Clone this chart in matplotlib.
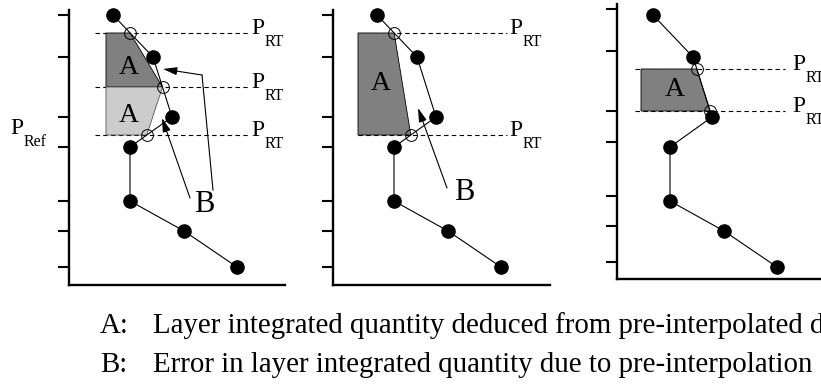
import matplotlib
matplotlib.use('Agg')
import matplotlib.pyplot as plt
import numpy as np
from matplotlib.patches import Polygon

plt.rcParams['font.family'] = ['Liberation Serif', 'DejaVu Serif']

# ---------------- data (diagram units: x = quantity, y = pressure level) ----
profile_x = [44, 84, 103, 61, 61, 115, 168]
profile_p = [15, 57, 117, 147, 201, 231, 267]

p1_ticks = [15, 57, 117, 147, 201, 231, 267]
p2_ticks = [15, 57, 117, 147, 201, 231, 267]
p3_ticks = [9, 51, 111, 142, 196, 226, 262]

p1_rt_levels = [33, 87, 135]
p2_rt_levels = [33, 135]
p3_rt_levels = [69, 111]

p1_fill_colors = ['#808080', '#cccccc']
p2_fill_colors = ['#808080']
p3_fill_colors = ['#808080']

label_rt = ('P', 'RT')
label_ref = ('P', 'Ref')
legend_keys = ['A:', 'B:']
legend_texts = ['Layer integrated quantity deduced from pre-interpolated data',
                'Error in layer integrated quantity due to pre-interpolation']

# ---------------- layout --------------------------------------------------
W, H = 821, 387
fig = plt.figure(figsize=(W / 100, H / 100), dpi=100)


def px_axes(left, top, right, bottom):
    return fig.add_axes([left / W, 1 - bottom / H, (right - left) / W, (bottom - top) / H])


def style_axes(ax, xlim, ylim, ticks):
    ax.set_xlim(*xlim)
    ax.set_ylim(*ylim)
    ax.patch.set_alpha(0)
    for s in ['top', 'right']:
        ax.spines[s].set_visible(False)
    for s in ['left', 'bottom']:
        ax.spines[s].set_linewidth(1.7)
    ax.set_xticks([])
    ax.set_yticks(ticks)
    ax.set_yticklabels([])
    ax.tick_params(axis='y', direction='out', length=8, width=1.5)


def sub_label(ax, x, y, main, sub, fs=17, sfs=11.5, drop=8.5):
    ax.annotate(main, xy=(x, y), xycoords='data', fontsize=fs, va='baseline',
                ha='left', annotation_clip=False)
    ax.annotate(sub, xy=(x, y), xycoords='data', xytext=(0.58 * fs, -drop),
                textcoords='offset points', fontsize=sfs, va='baseline', ha='left',
                annotation_clip=False)


def interp_x(level):
    return float(np.interp(level, profile_p, profile_x))


def draw_panel(ax, rt_levels, fill_colors, poly_left, dash_x0, dash_x1, rt_label_x,
               a_labels):
    for lv in rt_levels:
        ax.plot([dash_x0, dash_x1], [lv, lv], ls=(0, (4, 3)), color='k', lw=0.8, zorder=1)
        sub_label(ax, rt_label_x, lv + 1, *label_rt)
    for i, col in enumerate(fill_colors):
        r0, r1 = rt_levels[i], rt_levels[i + 1]
        verts = [(poly_left, r0), (interp_x(r0), r0), (interp_x(r1), r1), (poly_left, r1)]
        ax.add_patch(Polygon(verts, closed=True, facecolor=col,
                             edgecolor='k' if i == 0 else '#555555', lw=0.6, zorder=2))
    for (ax_x, ax_y) in a_labels:
        ax.text(ax_x, ax_y, 'A', fontsize=20, ha='center', va='center', zorder=3)
    ax.plot(profile_x, profile_p, color='k', lw=0.8, zorder=4, clip_on=False)
    ax.plot(profile_x, profile_p, 'o', color='k', ms=9.5, zorder=5, clip_on=False)
    ax.plot([interp_x(lv) for lv in rt_levels], rt_levels, 'o', mfc='none', mec='k',
            mew=0.7, ms=8.5, zorder=5)


def arrow(ax, tail, head):
    ax.annotate('', xy=head, xytext=tail,
                arrowprops=dict(arrowstyle='-|>,head_length=0.7,head_width=0.2',
                                lw=0.8, color='k', mutation_scale=12,
                                shrinkA=0, shrinkB=0), annotation_clip=False)


# ---------------- panel 1 -------------------------------------------------
ax1 = px_axes(69, 10, 285, 285)
style_axes(ax1, (0, 216), (285, 10), p1_ticks)
draw_panel(ax1, p1_rt_levels, p1_fill_colors, 37, 26, 179, 182,
           [(60, 68), (60, 116)])
ax1.text(135, 204, 'B', fontsize=22, ha='center', va='center')
ax1.plot([144, 133], [190, 75], color='k', lw=0.8)
arrow(ax1, (133, 75), (94, 69))
arrow(ax1, (121, 198), (93, 118))
sub_label(ax1, -59, 134, *label_ref)

# ---------------- panel 2 -------------------------------------------------
ax2 = px_axes(333, 10, 550, 285)
style_axes(ax2, (0, 217), (285, 10), p2_ticks)
draw_panel(ax2, p2_rt_levels, p2_fill_colors, 25, 25, 174, 176, [(48, 84)])
ax2.text(131, 192, 'B', fontsize=22, ha='center', va='center')
arrow(ax2, (114, 188), (85, 108))

# ---------------- panel 3 -------------------------------------------------
ax3 = px_axes(617, 4, 833, 279)
style_axes(ax3, (8, 224), (279, 4), p3_ticks)
draw_panel(ax3, p3_rt_levels, p3_fill_colors, 32, 26, 176, 183, [(66, 89)])

# ---------------- legend text --------------------------------------------
for i, (k, t) in enumerate(zip(legend_keys, legend_texts)):
    yb = 1 - (333 + 39 * i) / H
    fig.text(100 / W, yb, k, fontsize=20.8, va='baseline', ha='left')
    fig.text(153 / W, yb, t, fontsize=20.8, va='baseline', ha='left')

fig.savefig('out.png', dpi=100)
